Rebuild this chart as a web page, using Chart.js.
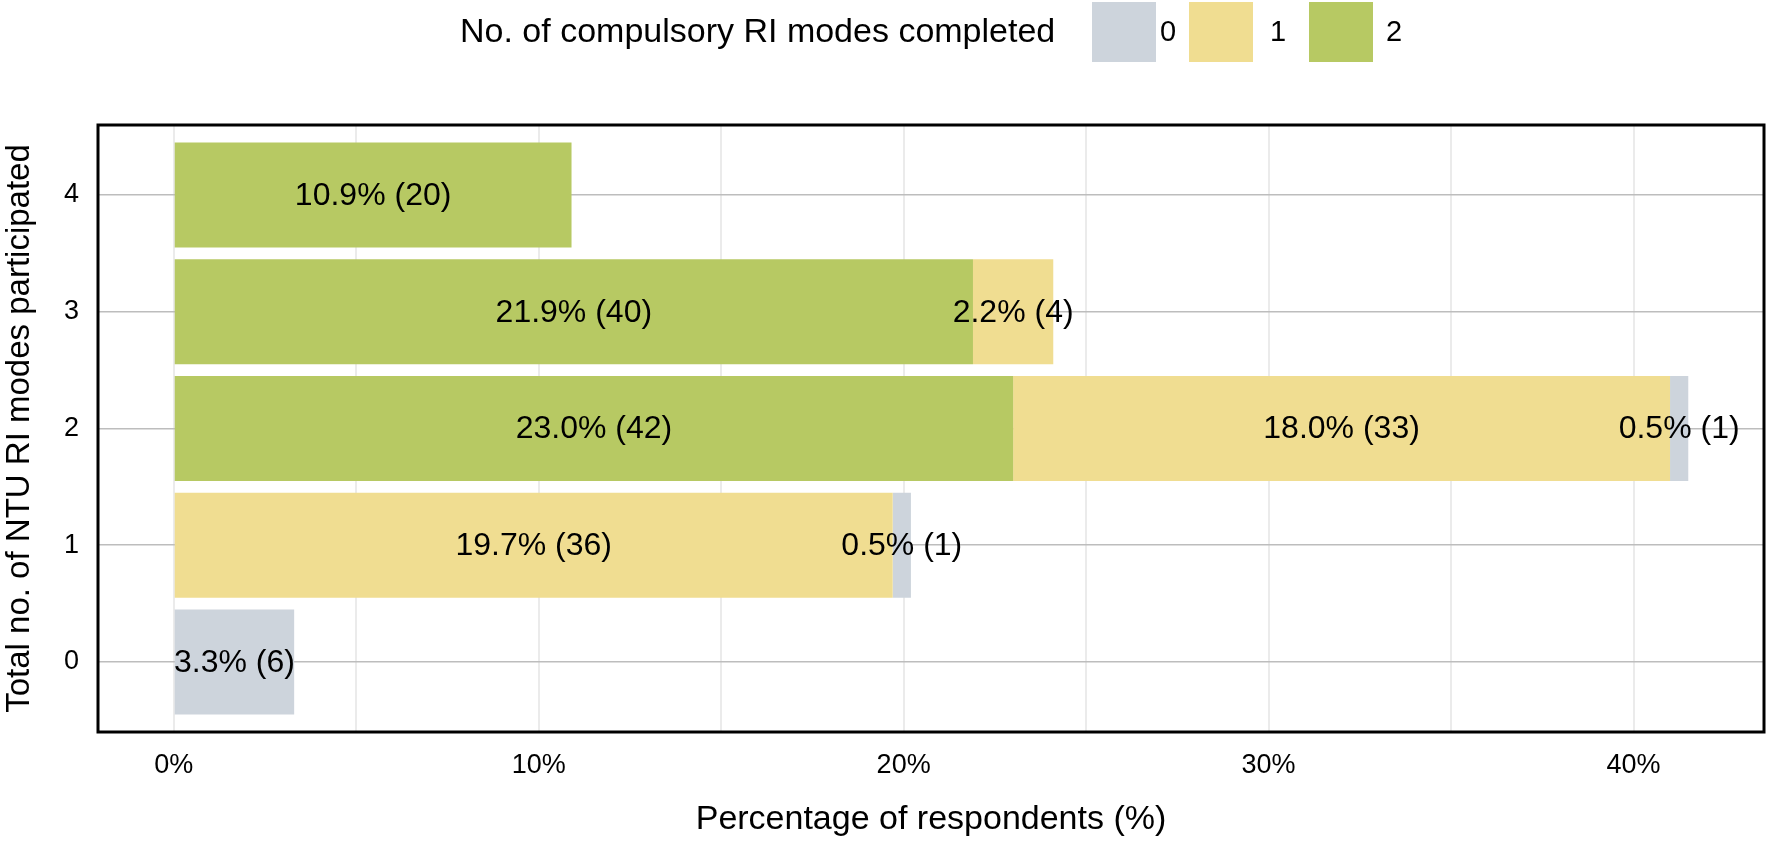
<!DOCTYPE html>
<html><head><meta charset="utf-8">
<script src="https://cdn.jsdelivr.net/npm/chart.js@4/dist/chart.umd.min.js"></script>
<style>html,body{margin:0;padding:0;background:#fff}#wrap{width:1769px;height:844px;position:relative}</style>
</head><body><div id="wrap"><canvas id="c"></canvas></div>
<script>
// ---- data ----
const categories = [0, 1, 2, 3, 4];           // Total no. of NTU RI modes participated
const pct2 = [0, 0, 23.0, 21.9, 10.9];        // completed 2
const cnt2 = [0, 0, 42, 40, 20];
const pct1 = [0, 19.7, 18.0, 2.2, 0];         // completed 1
const cnt1 = [0, 36, 33, 4, 0];
const pct0 = [3.3, 0.5, 0.5, 0, 0];           // completed 0
const cnt0 = [6, 1, 1, 0, 0];
const xTickValues = [0, 5, 10, 15, 20, 25, 30, 35, 40];
const xTickLabels = ['0%', '', '10%', '', '20%', '', '30%', '', '40%'];
const yTickLabels = ['0', '1', '2', '3', '4'];
const legendTitle = 'No. of compulsory RI modes completed';
const legendOrder = ['0', '1', '2'];

const COLORS = {'0': '#CDD4DC', '1': '#F0DD91', '2': '#B7C963'};
const FONT = "'Liberation Sans', Arial, sans-serif";

function pts(p, n) {
  const out = [];
  categories.forEach((c, i) => { if (p[i] > 0) out.push({x: p[i], y: c, n: n[i]}); });
  return out;
}

const datasets = [
  {label: '2', data: pts(pct2, cnt2), backgroundColor: COLORS['2']},
  {label: '1', data: pts(pct1, cnt1), backgroundColor: COLORS['1']},
  {label: '0', data: pts(pct0, cnt0), backgroundColor: COLORS['0']}
];

const labelPlugin = {
  id: 'barLabels',
  afterDatasetsDraw(chart) {
    const ctx = chart.ctx;
    ctx.save();
    ctx.font = '32px ' + FONT;
    ctx.fillStyle = '#000';
    ctx.textAlign = 'center';
    ctx.textBaseline = 'middle';
    chart.data.datasets.forEach((ds, di) => {
      const meta = chart.getDatasetMeta(di);
      meta.data.forEach((el, i) => {
        const r = ds.data[i];
        ctx.fillText(r.x.toFixed(1) + '% (' + r.n + ')', (el.x + el.base) / 2, el.y + 1);
      });
    });
    ctx.restore();
  },
  afterDraw(chart) {
    const ctx = chart.ctx;
    const a = chart.chartArea;
    ctx.save();
    ctx.strokeStyle = '#000';
    ctx.lineWidth = 3;
    ctx.strokeRect(a.left, a.top, a.right - a.left, a.bottom - a.top);
    // legend
    ctx.textBaseline = 'middle';
    ctx.textAlign = 'left';
    ctx.fillStyle = '#000';
    ctx.font = '34px ' + FONT;
    ctx.fillText(legendTitle, 460, 33);
    const boxX = [1092, 1189, 1309];
    const labX = [1168, 1278, 1394];
    ctx.font = '29px ' + FONT;
    legendOrder.forEach((lab, i) => {
      ctx.fillStyle = COLORS[lab];
      ctx.fillRect(boxX[i], 2, 64, 60);
      ctx.fillStyle = '#000';
      ctx.textAlign = 'center';
      ctx.fillText(lab, labX[i], 33);
    });
    ctx.restore();
  }
};

new Chart(document.getElementById('c'), {
  type: 'bar',
  data: {datasets},
  options: {
    indexAxis: 'y',
    responsive: true,
    maintainAspectRatio: false,
    animation: false,
    devicePixelRatio: 1,
    datasets: {bar: {barPercentage: 0.9, categoryPercentage: 1.0, borderWidth: 0}},
    layout: {padding: {top: 125, right: 5, left: 0, bottom: 0}},
    plugins: {legend: {display: false}, tooltip: {enabled: false}},
    scales: {
      x: {
        type: 'linear', stacked: true, min: -2.075, max: 43.575,
        afterBuildTicks(s) { s.ticks = xTickValues.map(v => ({value: v})); },
        afterFit(s) { s.height = 112; },
        grid: {color: '#EBEBEB', lineWidth: 2, drawTicks: false},
        border: {display: false},
        ticks: {
          padding: 17, color: '#000',
          font: {family: FONT, size: 27},
          callback(v) { const i = xTickValues.indexOf(v); return i >= 0 ? xTickLabels[i] : ''; },
          maxRotation: 0, autoSkip: false
        },
        title: {display: true, text: 'Percentage of respondents (%)', color: '#000',
                font: {family: FONT, size: 34}, padding: {top: 0, bottom: 4}}
      },
      y: {
        type: 'linear', stacked: true, min: -0.6, max: 4.6, offset: false,
        afterBuildTicks(s) { s.ticks = categories.map(v => ({value: v})); },
        afterFit(s) { s.width = 98; },
        grid: {color: '#BDBDBD', lineWidth: 1.5, drawTicks: false, offset: false},
        border: {display: false},
        ticks: {
          padding: 19, color: '#000',
          font: {family: FONT, size: 27},
          callback(v) { const i = categories.indexOf(v); return i >= 0 ? yTickLabels[i] : ''; },
          autoSkip: false
        },
        title: {display: true, text: 'Total no. of NTU RI modes participated', color: '#000',
                font: {family: FONT, size: 33}, padding: {top: 0, bottom: 0}}
      }
    }
  },
  plugins: [labelPlugin]
});
</script>
</body></html>
